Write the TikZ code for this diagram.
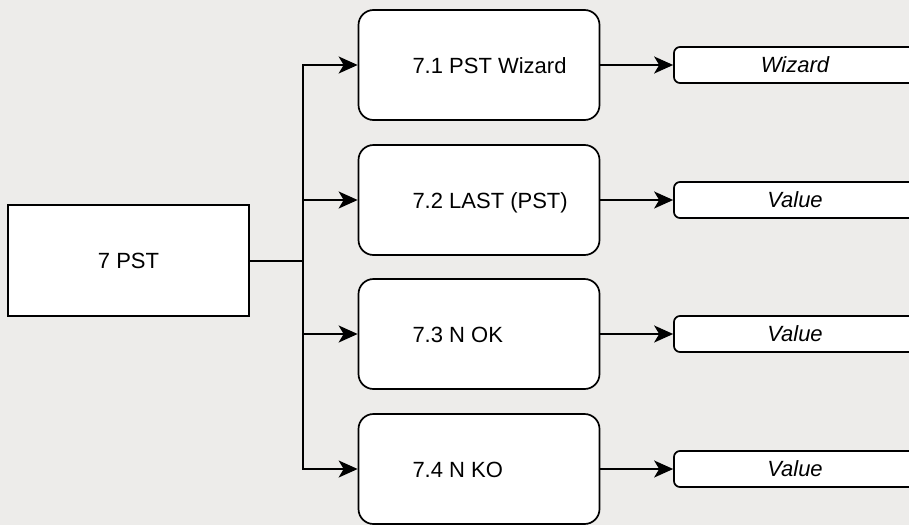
\documentclass[tikz,border=0pt]{standalone}
\usepackage{fontspec}
\setmainfont{Liberation Sans}
\usetikzlibrary{arrows.meta}
\definecolor{bgcol}{HTML}{EDECEA}

\begin{document}
\begin{tikzpicture}[x=1pt,y=-1pt,line width=1.7pt,
  font=\fontsize{22}{26}\selectfont,
  rootbox/.style={draw,fill=white,minimum width=241pt,minimum height=111pt},
  subbox/.style={draw,fill=white,rounded corners=15pt,minimum width=241pt,minimum height=110pt},
  valbox/.style={draw,fill=white,rounded corners=6pt,minimum width=242pt,minimum height=36pt,font=\fontsize{22}{26}\selectfont\itshape},
  arr/.style={-{Stealth[length=19pt,width=17pt,inset=5pt]}}]
  \fill[bgcol] (0,0) rectangle (909,525);
  \useasboundingbox (0,0) rectangle (909,525);
  \clip (0,0) rectangle (909,525);
  \node[rootbox] (root) at (128.5,260.5) {7 PST};
  \coordinate (split) at (303,261);
  \draw (root.east|-split) -- (split);
  \foreach \y/\name/\val [count=\i] in {65/7.1 PST Wizard/Wizard,200/7.2 LAST (PST)/Value,334/7.3 N OK/Value,469/7.4 N KO/Value}{
    \node[subbox] (sub\i) at (479,\y) {};
    \node[anchor=base west,inner sep=0] (lab\i) at ([xshift=54pt,yshift=-8pt]sub\i.west) {\name};
    \node[valbox] (val\i) at (795,\y) {\val};
    \draw[arr] (split|-sub\i) -- (sub\i);
    \draw[arr] (sub\i) -- (val\i);
  }
  \draw[line cap=rect] (split|-sub1) -- (split|-sub4);
\end{tikzpicture}
\end{document}
